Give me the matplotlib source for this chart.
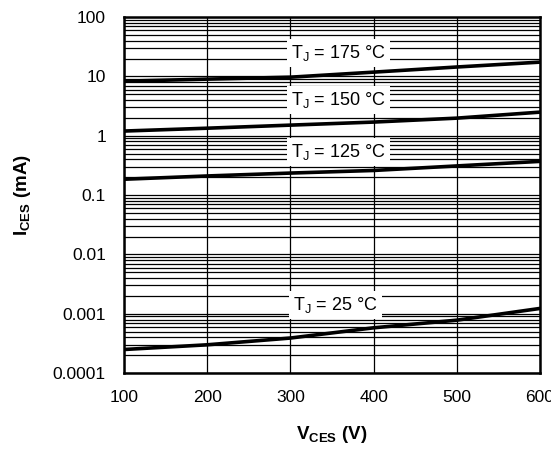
import matplotlib
matplotlib.use("Agg")
import matplotlib.pyplot as plt
from matplotlib.ticker import LogLocator, NullFormatter

plt.rcParams['font.family'] = ['Liberation Sans', 'DejaVu Sans']

# Daten (V_CES in V, I_CES in mA)
vces = [100, 200, 300, 400, 500, 600]
ices_175 = [8.3, 9.0, 9.7, 11.8, 14.4, 17.4]
ices_150 = [1.2, 1.34, 1.51, 1.7, 1.98, 2.5]
ices_125 = [0.185, 0.21, 0.235, 0.26, 0.31, 0.37]
ices_25 = [0.00025, 0.0003, 0.00039, 0.00058, 0.00078, 0.00123]

curves = [
    (ices_175, "175", 358, 24.7),
    (ices_150, "150", 358, 4.0),
    (ices_125, "125", 358, 0.53),
    (ices_25, "25", 354, 0.00139),
]

fig = plt.figure(figsize=(5.51, 4.49), dpi=100)
ax = fig.add_axes([0.225, 0.169, 0.755, 0.793])

for ys, temp, lx, ly in curves:
    ax.plot(vces, ys, color='black', linewidth=2.6, zorder=3)
    ax.text(lx, ly, r'T$_\mathregular{J}$ = ' + temp + ' °C', fontsize=13,
            ha='center', va='center', zorder=4,
            bbox=dict(facecolor='white', edgecolor='none', pad=3))

ax.set_yscale('log')
ax.set_xlim(100, 600)
ax.set_ylim(0.0001, 100)
ax.set_xticks([100, 200, 300, 400, 500, 600])
ax.set_yticks([0.0001, 0.001, 0.01, 0.1, 1, 10, 100])
ax.set_yticklabels(['0.0001', '0.001', '0.01', '0.1', '1', '10', '100'])
ax.yaxis.set_minor_locator(LogLocator(base=10, subs=range(2, 10), numticks=20))
ax.yaxis.set_minor_formatter(NullFormatter())

ax.grid(True, which='major', color='black', linewidth=0.9)
ax.grid(True, which='minor', axis='y', color='black', linewidth=0.9)
ax.tick_params(which='both', length=0, labelsize=12.5)
ax.tick_params(axis='y', pad=13)
ax.tick_params(axis='x', pad=12)
for s in ax.spines.values():
    s.set_linewidth(1.8)

ax.set_xlabel(r'V$_\mathregular{CES}$ (V)', fontsize=13.5, fontweight='bold', labelpad=14)
ax.set_ylabel(r'I$_\mathregular{CES}$ (mA)', fontsize=13.5, fontweight='bold', labelpad=14)

fig.savefig('out.png', dpi=100)
